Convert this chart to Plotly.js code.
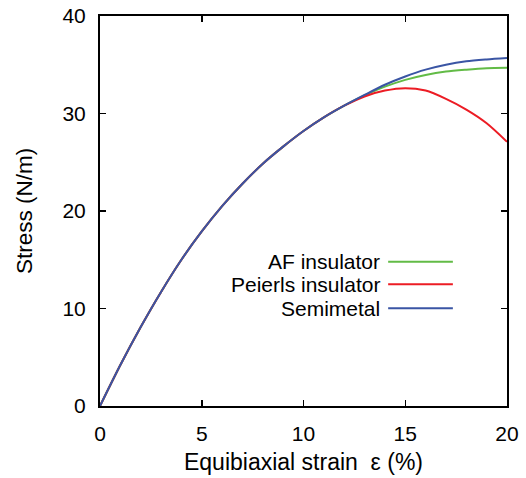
<!DOCTYPE html>
<html>
<head>
<meta charset="utf-8">
<script src="https://cdn.plot.ly/plotly-3.0.1.min.js"></script>
<style>
  html, body { margin: 0; padding: 0; background: #fff; }
  #chart { width: 526px; height: 478px; }
</style>
</head>
<body>
<div id="chart"></div>
<script>
// Equibiaxial strain (%)
const strain = [0, 1, 2, 3, 4, 5, 6, 7, 8, 9, 10, 11, 12, 13, 14, 15, 16, 17, 18, 19, 20];

// Stress (N/m) for each electronic phase
const afInsulator = [0, 4.2, 8.1, 11.7, 15.0, 17.9, 20.5, 22.8, 24.85, 26.6, 28.2, 29.6, 30.8, 31.85, 32.75, 33.45, 33.95, 34.3, 34.5, 34.65, 34.7];
const peierlsInsulator = [0, 4.2, 8.1, 11.7, 15.0, 17.9, 20.5, 22.8, 24.85, 26.6, 28.2, 29.6, 30.8, 31.75, 32.35, 32.6, 32.35, 31.5, 30.4, 29.0, 27.1];
const semimetal = [0, 4.2, 8.1, 11.7, 15.0, 17.9, 20.5, 22.8, 24.85, 26.6, 28.2, 29.6, 30.8, 31.9, 32.95, 33.8, 34.5, 35.0, 35.35, 35.55, 35.7];

const seriesNames = ['AF insulator', 'Peierls insulator', 'Semimetal'];
const seriesColors = ['#62bb46', '#ec1c24', '#3a55a4'];
const seriesValues = [afInsulator, peierlsInsulator, semimetal];

const xTicks = [0, 5, 10, 15, 20];
const yTicks = [0, 10, 20, 30, 40];

const FONT = 'Liberation Sans, Arial, Helvetica, sans-serif';

// Semimetal is drawn last so the shared low-strain branch shows in blue
const traces = seriesNames.map((name, i) => ({
  x: strain,
  y: seriesValues[i],
  name: name,
  type: 'scatter',
  mode: 'lines',
  line: { color: seriesColors[i], width: 2, shape: 'spline', smoothing: 0.8 },
  showlegend: false,
  hoverinfo: 'skip'
}));

// Key: label on the left, sample line on the right of each row
const keyRowsY = [0.370, 0.312, 0.2505];
const keyTextX = 0.693;
const keyLineX0 = 0.708;
const keyLineX1 = 0.867;

const annotations = seriesNames.map((name, i) => ({
  xref: 'paper', yref: 'paper',
  x: keyTextX, y: keyRowsY[i],
  xanchor: 'right', yanchor: 'middle',
  text: name,
  showarrow: false,
  font: { family: FONT, size: 21, color: '#000' }
}));

const shapes = seriesNames.map((name, i) => ({
  type: 'line',
  xref: 'paper', yref: 'paper',
  x0: keyLineX0, x1: keyLineX1,
  y0: keyRowsY[i], y1: keyRowsY[i],
  line: { color: seriesColors[i], width: 2 }
}));

const axisCommon = {
  showgrid: false,
  zeroline: false,
  showline: true,
  linecolor: '#000',
  linewidth: 2,
  mirror: 'ticks',
  ticks: 'inside',
  ticklen: 6,
  tickwidth: 1.5,
  tickcolor: '#000',
  tickfont: { family: FONT, size: 21, color: '#000' }
};

const layout = {
  width: 526,
  height: 478,
  margin: { l: 100, r: 19, t: 16, b: 72 },
  paper_bgcolor: '#fff',
  plot_bgcolor: '#fff',
  xaxis: Object.assign({}, axisCommon, {
    range: [0, 20],
    tickvals: xTicks,
    ticktext: xTicks.map(String),
    ticklabelstandoff: 8,
    title: {
      text: 'Equibiaxial strain  ε (%)',
      font: { family: FONT, size: 23, color: '#000' },
      standoff: 10
    }
  }),
  yaxis: Object.assign({}, axisCommon, {
    range: [0, 40],
    tickvals: yTicks,
    ticktext: yTicks.map(String),
    ticklabelstandoff: 8,
    title: { text: 'Stress (N/m)', font: { family: FONT, size: 22.5, color: '#000' }, standoff: 24 }
  }),
  annotations: annotations,
  shapes: shapes,
  showlegend: false
};

Plotly.newPlot('chart', traces, layout, { displayModeBar: false, staticPlot: true });
</script>
</body>
</html>
